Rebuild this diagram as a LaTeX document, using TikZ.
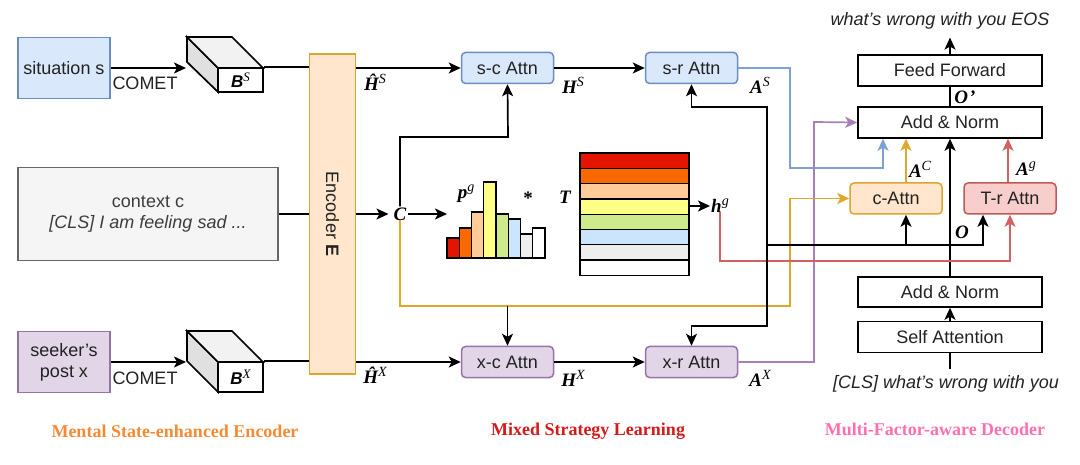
\documentclass[tikz,border=0pt]{standalone}
\usepackage{fontspec}
\setmainfont{Liberation Sans}
\newfontfamily\tms{Liberation Serif}
\usetikzlibrary{arrows.meta,calc}
\definecolor{bfill}{HTML}{DAE8FC}\definecolor{bstroke}{HTML}{6C8EBF}
\definecolor{pfill}{HTML}{E1D5E7}\definecolor{pstroke}{HTML}{9673A6}
\definecolor{ofill}{HTML}{FFE6CC}\definecolor{ostroke}{HTML}{DCA530}
\definecolor{rfill}{HTML}{F8CECC}\definecolor{rstroke}{HTML}{C05A58}
\definecolor{gfill}{HTML}{F5F5F5}\definecolor{gstroke}{HTML}{666666}
\definecolor{bline}{HTML}{7EA1D6}\definecolor{pline}{HTML}{A680B8}
\definecolor{oline}{HTML}{E0A828}\definecolor{rline}{HTML}{D46060}
\definecolor{c1}{HTML}{E51400}\definecolor{c2}{HTML}{FA6800}
\definecolor{c3}{HTML}{FFCC99}\definecolor{c4}{HTML}{FFFF88}
\definecolor{c5}{HTML}{CDEB8B}\definecolor{c6}{HTML}{CCE5FF}
\definecolor{c7}{HTML}{EEEEEE}\definecolor{c8}{HTML}{FFFFFF}
\definecolor{capo}{HTML}{F58A32}\definecolor{capr}{HTML}{D41A1A}
\definecolor{capp}{HTML}{FF6FB0}
\definecolor{txt}{HTML}{222222}
\newcommand{\ml}[2]{{\tms\bfseries\itshape #1}\raisebox{0.7ex}{\tms\itshape\fontsize{14}{14}\selectfont #2}}
\tikzset{
  lw/.style={line width=1.7pt},
  arr/.style={lw,-{Stealth[length=12pt,width=11pt,inset=3pt]}},
  box/.style={draw,line width=1.5pt,inner sep=0pt,align=center,text=txt,font=\fontsize{18}{21}\selectfont},
  rbox/.style={box,rounded corners=4pt,minimum width=92,minimum height=31},
  bluebox/.style={rbox,fill=bfill,draw=bstroke},
  purbox/.style={rbox,fill=pfill,draw=pstroke},
  orbox/.style={rbox,fill=ofill,draw=ostroke},
  redbox/.style={rbox,fill=rfill,draw=rstroke},
  decbox/.style={box,minimum width=184,minimum height=31},
  mlab/.style={inner sep=1pt,font=\fontsize{19}{19}\selectfont},
  txtlab/.style={inner sep=1pt,text=txt,font=\fontsize{18}{21}\selectfont},
  caption/.style={font=\tms\bfseries\fontsize{18}{18}\selectfont},
}
\begin{document}
\begin{tikzpicture}[x=1pt,y=-1pt]
\useasboundingbox (0,0) rectangle (1080,465);

% ---------- left inputs ----------
\node[box,fill=bfill,draw=bstroke,minimum width=92,minimum height=61] (sit) at (64,68) {situation s};
\node[box,fill=gfill,draw=gstroke,minimum width=260,minimum height=93,text=gstroke!60!black] (ctx) at (148,214) {context c\\\textit{[CLS] I am feeling sad ...}};
\node[box,fill=pfill,draw=pstroke,minimum width=92,minimum height=61] (seek) at (64,362) {seeker's\\post x};

% cubes
\filldraw[lw,fill=black!12] (187,37) -- (218,68) -- (218,92) -- (187,62) -- cycle;
\filldraw[lw,fill=black!5] (187,37) -- (232,37) -- (263,68) -- (218,68) -- cycle;
\node[draw,lw,fill=white,minimum width=45,minimum height=24,inner sep=0pt,font=\fontsize{17}{17}\selectfont] (bs) at (240.5,80) {{\bfseries\itshape B}\raisebox{0.7ex}{\tms\itshape\fontsize{13}{13}\selectfont S}};
\filldraw[lw,fill=black!12] (187,331) -- (218,362) -- (218,392) -- (187,361) -- cycle;
\filldraw[lw,fill=black!5] (187,331) -- (232,331) -- (263,362) -- (218,362) -- cycle;
\node[draw,lw,fill=white,minimum width=45,minimum height=30,inner sep=0pt,font=\fontsize{17}{17}\selectfont] (bx) at (240.5,377) {{\bfseries\itshape B}\raisebox{0.7ex}{\tms\itshape\fontsize{13}{13}\selectfont X}};
\coordinate (bsin) at (186,68);
\coordinate (bxin) at (186,362);

\draw[arr] (sit.east) -- (bsin);
\draw[arr] (seek.east) -- (bxin);
\node[txtlab] (com1) at (145,83) {COMET};
\node[txtlab] (com2) at (145,378) {COMET};

% encoder
\node[box,fill=ofill,draw=ostroke,minimum width=46,minimum height=320] (enc) at (332.5,214) {};
\node[txtlab,rotate=-90] (enclab) at (enc.center) {Encoder \textbf{E}};

\draw[lw] (bs.north east) -- (bs.north east -| enc.west);
\draw[lw] (bx.north east) -- (bx.north east -| enc.west);
\draw[lw] (ctx.east) -- (ctx.east -| enc.west);

% ---------- middle ----------
\node[bluebox] (sc) at (507.5,68) {s-c Attn};
\node[bluebox] (sr) at (691.5,68) {s-r Attn};
\node[purbox] (xc) at (507.5,362) {x-c Attn};
\node[purbox] (xr) at (691.5,362) {x-r Attn};
\node[mlab] (C) at (400,214) {\ml{C}{}};

\draw[arr] (enc.east |- sc.west) -- (sc.west);
\draw[arr] (enc.east |- xc.west) -- (xc.west);
\draw[arr] (enc.east |- C.west) -- ([xshift=-4pt]C.west);
\draw[arr] (sc.east) -- (sr.west);
\draw[arr] (xc.east) -- (xr.west);

\node[mlab] (hHS) at (375,82) {\ml{\^{H}}{S}};
\node[mlab] (HS) at (573,85) {\ml{H}{S}};
\node[mlab] (AS) at (760,85) {\ml{A}{S}};
\node[mlab] (hHX) at (375,375) {\ml{\^{H}}{X}};
\node[mlab] (HX) at (573,378) {\ml{H}{X}};
\node[mlab] (AX) at (760,378) {\ml{A}{X}};

% histogram
\coordinate (hist) at (447,214);
\draw[arr] (C.east) -- (hist);
\foreach \i/\top in {1/238,2/228,3/212,4/182,5/214,6/219,7/234,8/228}{
  \filldraw[line width=1.3pt,fill=c\i] ({447+(\i-1)*12.25},258) rectangle ({447+\i*12.25},\top);
}
\node[mlab] (pg) at (466,194) {\ml{p}{g}};
\node[mlab] (star) at (528,198) {\tms\bfseries *};
\node[mlab] (Tl) at (565,197) {\ml{T}{}};

% T stack
\foreach \i in {1,...,8}{
  \filldraw[line width=1.3pt,fill=c\i] (580,{153+(\i-1)*15.3}) rectangle (689,{153+\i*15.3});
}
\coordinate (Tright) at (689,206);
\node[mlab] (hg) at (720,206) {\ml{h}{g}};
\draw[arr] (Tright) -- (hg.west);

% C up to s-c
\coordinate (cup) at (508,137);
\draw[arr] (C.north) |- (cup) -- (sc.south);

% ---------- decoder ----------
\node[decbox] (ff) at (950,70.5) {Feed Forward};
\node[decbox] (an1) at (950,122.5) {Add \& Norm};
\node[decbox,minimum height=30] (an2) at (950,292) {Add \& Norm};
\node[decbox] (sa) at (950,337) {Self Attention};
\node[orbox] (ca) at (896,198.5) {c-Attn};
\node[redbox] (tr) at (1010,198.5) {T-r Attn};
\node[txtlab] (out) at (940,21) {\itshape what's wrong with you EOS};
\node[txtlab] (cls) at (946,384) {\itshape [CLS] what's wrong with you};

\draw[arr,shorten >=7pt] (ff.north) -- (ff.north |- out.south);
\draw[lw] (an1.north) -- (ff.south);
\draw[arr] (sa.north) -- (an2.south);
\draw[lw,shorten <=5pt] (cls.north -| sa.south) -- (sa.south);
\draw[arr] (an2.north) -- (an1.south);

\node[mlab] (Op) at (965,97) {{\tms\bfseries\itshape O\kern1pt\textquoteright}};
\node[mlab] (Ol) at (962,232) {\ml{O}{}};
\node[mlab] (AC) at (920,169) {\ml{A}{C}};
\node[mlab] (Ag) at (1026,169) {\ml{A}{g}};

\draw[arr,draw=oline,color=oline] ($(ca.north)+(10,0)$) -- ($(an1.south)+(-44,0)$);
\draw[arr,draw=rline,color=rline] ($(tr.north)+(-2,0)$) -- ($(an1.south)+(58,0)$);

% blue A^S path
\draw[arr,draw=bline,color=bline] (sr.east) -| (790,168) -| ($(an1.south)+(-67,0)$);
% purple A^X path
\draw[arr,draw=pline,color=pline] (xr.east) -| (814,122) -- (an1.west);

% orange C path
\coordinate (ocorner) at (790,306);
\draw[arr,draw=oline,color=oline] ([yshift=2pt]C.south) |- (ocorner) |- (ca.west);
\draw[arr] (xc.north |- ocorner) -- (xc.north);

% red h^g path
\draw[arr,draw=rline,color=rline] ([yshift=2pt]hg.south) |- ($(tr.south)+(0,46)$) -- (tr.south);

% black O network
\coordinate (Okn) at (767,245);
\coordinate (caO) at ($(ca.south)+(10,0)$);
\coordinate (trO) at ($(tr.south)+(-27,0)$);
\draw[arr] (Okn) |- (sr.south |- 0,107) -- (sr.south);
\draw[arr] (Okn) |- (xr.north |- 0,326) -- (xr.north);
\draw[arr] (Okn) -| (trO);
\draw[arr] (caO |- Okn) -- (caO);

% ---------- captions ----------
\node[caption,text=capo] (cap1) at (175,431) {Mental State-enhanced Encoder};
\node[caption,text=capr] (cap2) at (588,431) {Mixed Strategy Learning};
\node[caption,text=capp] (cap3) at (935,429) {Multi-Factor-aware Decoder};
\end{tikzpicture}
\end{document}
